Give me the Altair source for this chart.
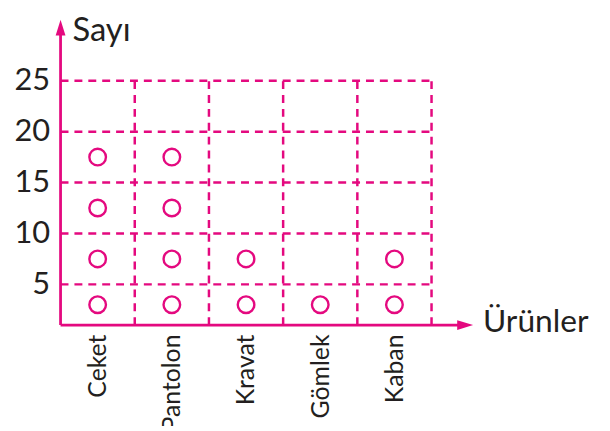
import json
import altair as alt
import pandas as pd

# ---- data -------------------------------------------------------------
categories = ["Ceket", "Pantolon", "Kravat", "Gömlek", "Kaban"]
counts = [20, 20, 10, 5, 10]          # each circle = 5
per_symbol = 5
y_ticks = [5, 10, 15, 20, 25]
y_title = "Sayı"
x_title = "Ürünler"

# ---- style ------------------------------------------------------------
MAGENTA = "#e4097f"
TEXT = "#231f20"
FONT = "Lato"

Y_LO, Y_HI = 1.0, 31.0
X_MAX = 5.56
W, H = 416, 308

xs = alt.Scale(domain=[0, X_MAX], nice=False, zero=False)
ys = alt.Scale(domain=[Y_LO, Y_HI], nice=False, zero=False)

xaxis = alt.Axis(
    values=[i + 0.5 for i in range(len(categories))],
    labelExpr=json.dumps(categories, ensure_ascii=False) + "[floor(datum.value)]",
    labelAngle=270, labelAlign="right", labelBaseline="middle",
    labelPadding=9, labelFontSize=25, labelFont=FONT, labelColor=TEXT,
    labelFlush=False, labelOverlap=False, labelBound=False,
    domain=False, ticks=False, tickSize=0, grid=False, title=None,
)
yaxis = alt.Axis(
    values=y_ticks, labelPadding=11, labelFontSize=31, labelFont=FONT,
    labelColor=TEXT, labelBaseline="middle", labelFlush=False,
    labelOverlap=False, domain=False, ticks=False, tickSize=0,
    grid=False, title=None,
)

# circles: one per 5 units, centred in each cell
rows = []
for i, (c, n) in enumerate(zip(categories, counts)):
    for k in range(n // per_symbol):
        lo = max(k * per_symbol, Y_LO)
        hi = (k + 1) * per_symbol
        rows.append({"cat": c, "x": i + 0.5, "y": (lo + hi) / 2})
circ_df = pd.DataFrame(rows)

hgrid_df = pd.DataFrame({"y": y_ticks, "x0": 0, "x1": len(categories)})
vgrid_df = pd.DataFrame({"x": list(range(1, len(categories) + 1)),
                         "y0": Y_LO, "y1": max(y_ticks)})
axis_df = pd.DataFrame({"x": [0.0], "y": [Y_LO], "xe": [X_MAX - 0.1], "ye": [Y_HI - 1.0],
                        "xt": [X_MAX], "yt": [Y_HI]})

hgrid = alt.Chart(hgrid_df).mark_rule(
    color=MAGENTA, strokeWidth=2.5, strokeDash=[8, 6]
).encode(
    x=alt.X("x0:Q", scale=xs, axis=xaxis), x2="x1:Q",
    y=alt.Y("y:Q", scale=ys, axis=yaxis),
)

vgrid = alt.Chart(vgrid_df).mark_rule(
    color=MAGENTA, strokeWidth=2.5, strokeDash=[8, 6]
).encode(
    x=alt.X("x:Q", scale=xs, axis=xaxis),
    y=alt.Y("y0:Q", scale=ys, axis=yaxis), y2="y1:Q",
)

yline = alt.Chart(axis_df).mark_rule(color=MAGENTA, strokeWidth=2.8).encode(
    x=alt.X("x:Q", scale=xs, axis=xaxis),
    y=alt.Y("y:Q", scale=ys, axis=yaxis), y2="ye:Q",
)
xline = alt.Chart(axis_df).mark_rule(color=MAGENTA, strokeWidth=2.8).encode(
    x=alt.X("x:Q", scale=xs, axis=xaxis), x2="xe:Q",
    y=alt.Y("y:Q", scale=ys, axis=yaxis),
)

up_arrow = alt.Chart(axis_df).mark_point(
    shape="M0,0L0.62,2L-0.62,2Z", filled=True, opacity=1,
    color=MAGENTA, size=256, strokeWidth=0,
).encode(
    x=alt.X("x:Q", scale=xs, axis=xaxis),
    y=alt.Y("yt:Q", scale=ys, axis=yaxis),
)
right_arrow = alt.Chart(axis_df).mark_point(
    shape="M0,0L-2,-0.62L-2,0.62Z", filled=True, opacity=1,
    color=MAGENTA, size=256, strokeWidth=0,
).encode(
    x=alt.X("xt:Q", scale=xs, axis=xaxis),
    y=alt.Y("y:Q", scale=ys, axis=yaxis),
)

circles = alt.Chart(circ_df).mark_point(
    shape="circle", filled=False, color=MAGENTA, size=280,
    strokeWidth=2.4, opacity=1,
).encode(
    x=alt.X("x:Q", scale=xs, axis=xaxis),
    y=alt.Y("y:Q", scale=ys, axis=yaxis),
)

ytitle = alt.Chart(axis_df).mark_text(
    text=y_title, align="left", baseline="alphabetic", dx=12, dy=22,
    fontSize=33, font=FONT, color=TEXT,
).encode(
    x=alt.X("x:Q", scale=xs, axis=xaxis),
    y=alt.Y("yt:Q", scale=ys, axis=yaxis),
)
xtitle = alt.Chart(axis_df).mark_text(
    text=x_title, align="left", baseline="alphabetic", dx=10, dy=7,
    fontSize=32, font=FONT, color=TEXT,
).encode(
    x=alt.X("xt:Q", scale=xs, axis=xaxis),
    y=alt.Y("y:Q", scale=ys, axis=yaxis),
)

chart = alt.layer(
    hgrid, vgrid, yline, xline, up_arrow, right_arrow, circles, ytitle, xtitle
).properties(
    width=W, height=H,
    background="white",
    autosize=alt.AutoSizeParams(type="none"),
    padding={"left": 53, "top": 10, "right": 130, "bottom": 100},
).configure_view(stroke="transparent", strokeWidth=0)

chart.save("out.html", embed_options={"renderer": "svg", "actions": False})
